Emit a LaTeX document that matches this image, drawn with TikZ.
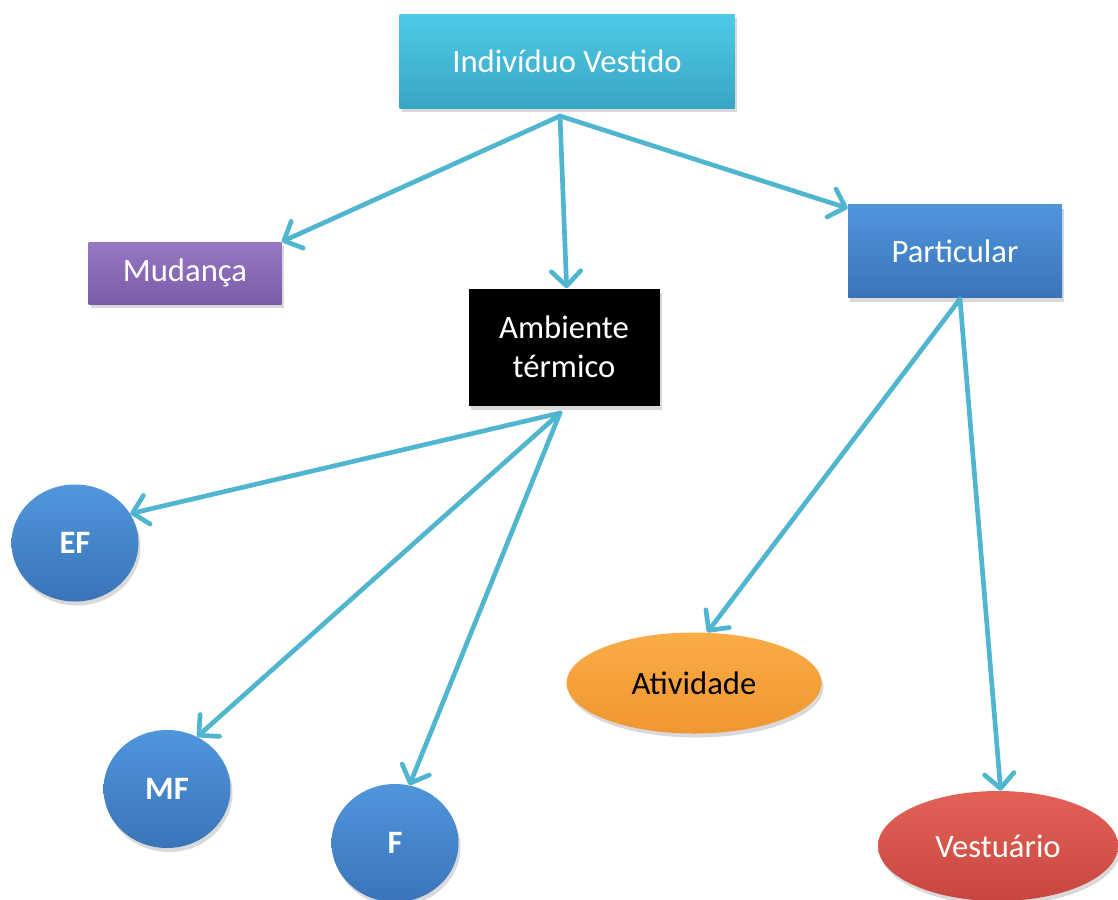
\documentclass[tikz,border=0pt]{standalone}
\usepackage{fontspec}
\setmainfont{Carlito}
\usetikzlibrary{arrows.meta,shapes.geometric,shadows}
\definecolor{arr}{RGB}{80,182,208}
\definecolor{cyanT}{RGB}{78,202,232}
\definecolor{cyanB}{RGB}{56,166,196}
\definecolor{purT}{RGB}{150,120,195}
\definecolor{purB}{RGB}{122,92,168}
\definecolor{bluT}{RGB}{80,150,220}
\definecolor{bluB}{RGB}{58,116,184}
\definecolor{oraT}{RGB}{250,172,70}
\definecolor{oraB}{RGB}{240,150,50}
\definecolor{redT}{RGB}{226,98,88}
\definecolor{redB}{RGB}{200,70,64}
\begin{document}
\begin{tikzpicture}[x=0.75pt,y=-0.75pt,
  lbl/.style={font=\fontsize{24.5}{29}\selectfont, text=white, inner sep=0pt, align=center,
    drop shadow={opacity=0.3, shadow xshift=1.5pt, shadow yshift=-3pt}},
  boxnode/.style={lbl, rectangle},
  ovalnode/.style={lbl, ellipse},
  boldlbl/.style={font=\fontsize{24.5}{29}\selectfont\bfseries},
  conn/.style={draw=arr, line width=3.5pt, line cap=round,
    -{Straight Barb[length=11pt,width=22pt,line cap=round,line join=round]}}]
\useasboundingbox (0,0) rectangle (1118,900);

\node[boxnode, top color=cyanT, bottom color=cyanB, minimum width=251.25pt, minimum height=70.5pt] (ind) at (567,61) {Indivíduo Vestido};
\node[boxnode, top color=purT, bottom color=purB, minimum width=144.75pt, minimum height=46.5pt] (mud) at (185,273) {Mudança};
\node[boxnode, fill=black, minimum width=143.25pt, minimum height=87.75pt] (amb) at (564,347) {Ambiente\\térmico};
\node[boxnode, top color=bluT, bottom color=bluB, minimum width=160.5pt, minimum height=69.75pt] (part) at (955,251) {Particular};

\node[ovalnode, boldlbl, top color=bluT, bottom color=bluB, minimum width=95.25pt, minimum height=87.75pt] (ef) at (75,543) {EF};
\node[ovalnode, boldlbl, top color=bluT, bottom color=bluB, minimum width=95.25pt, minimum height=88.5pt] (mf) at (167,789) {MF};
\node[ovalnode, boldlbl, top color=bluT, bottom color=bluB, minimum width=95.25pt, minimum height=88.5pt] (f) at (395,843) {F};

\node[ovalnode, top color=oraT, bottom color=oraB, text=black, minimum width=191.25pt, minimum height=75.75pt] (act) at (694,683) {Atividade};
\node[ovalnode, top color=redT, bottom color=redB, minimum width=180pt, minimum height=82.5pt] (ves) at (998,846) {Vestuário};

\coordinate (s1) at (560,116);
\coordinate (s2) at (560,413);
\coordinate (s3) at (960,299);

\draw[conn] (s1) -- (mud.north east);
\draw[conn] (s1) -- ([xshift=2pt]amb.north);
\draw[conn] (s1) -- ([yshift=-3pt]part.north west);

\draw[conn] (s2) -- (ef.28);
\draw[conn] (s2) -- (mf.60);
\draw[conn] (s2) -- (f.76);

\draw[conn] (s3) -- ([xshift=10pt]act.north);
\draw[conn] (s3) -- ([xshift=2pt]ves.north);
\end{tikzpicture}
\end{document}
